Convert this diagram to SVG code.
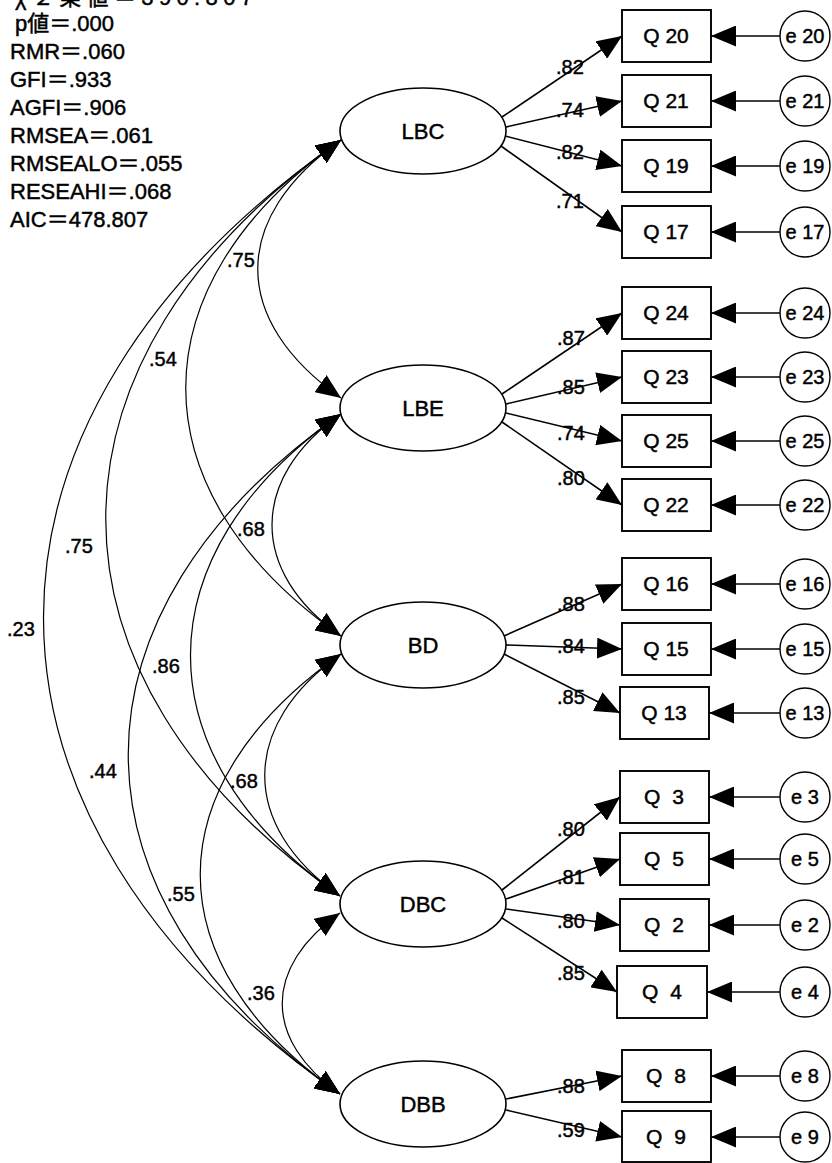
<svg xmlns="http://www.w3.org/2000/svg" width="832" height="1163" viewBox="0 0 832 1163">
<style>
  .t { font-family: "Liberation Sans", "Noto Sans CJK JP", sans-serif; fill: #000; stroke: #000; stroke-width: 0.45; }
  .stat { font-size: 22px; }
  .lv { font-size: 22px; text-anchor: middle; }
  .obs { font-size: 21px; text-anchor: middle; }
  .err { font-size: 20px; text-anchor: middle; }
  .w { font-size: 20px; }
  .ell { fill: #fff; stroke: #000; stroke-width: 1.6; }
  .box { fill: #fff; stroke: #000; stroke-width: 1.9; }
  .circ { fill: #fff; stroke: #000; stroke-width: 1.4; }
  .ln { fill: none; stroke: #000; stroke-width: 1.6; marker-end: url(#ah); }
  .arc { fill: none; stroke: #000; stroke-width: 1.2; marker-start: url(#ah); marker-end: url(#ah); }
</style>
<defs>
  <marker id="ah" viewBox="0 0 25 21" refX="25" refY="10.5" markerWidth="25" markerHeight="21" markerUnits="userSpaceOnUse" orient="auto-start-reverse">
    <path d="M0,0 L25,10.5 L0,21 z" fill="#000"/>
  </marker>
</defs>
<rect width="832" height="1163" fill="#fff"/>

<g id="fit-stats" class="t stat">
  <text x="15" y="5" textLength="238" lengthAdjust="spacing">χ２乗値＝390.807</text>
  <text x="15" y="31">p値＝.000</text>
  <text x="10" y="59">RMR＝.060</text>
  <text x="10" y="87">GFI＝.933</text>
  <text x="10" y="115">AGFI＝.906</text>
  <text x="10" y="143">RMSEA＝.061</text>
  <text x="10" y="171">RMSEALO＝.055</text>
  <text x="10" y="199">RESEAHI＝.068</text>
  <text x="10" y="227">AIC＝478.807</text>
</g>

<g id="connectors">
  <!-- covariances -->
  <path class="arc" d="M341,140 C230,218 230,320 341,398"/>
  <path class="arc" d="M341,140 C134,285 134,491 341,636"/>
  <path class="arc" d="M341,140 C28,359 27,677 340,896"/>
  <path class="arc" d="M341,140 C-55,417 -56,817 340,1094"/>
  <path class="arc" d="M341,414 C249,478 249,572 341,636"/>
  <path class="arc" d="M341,414 C141,554 140,756 340,896"/>
  <path class="arc" d="M341,414 C58,612 57,896 340,1094"/>
  <path class="arc" d="M341,654 C240,725 239,825 340,896"/>
  <path class="arc" d="M341,654 C154,785 153,963 340,1094"/>
  <path class="arc" d="M340,913 C263,967 263,1040 340,1094"/>
  <!-- loadings -->
  <path class="ln" d="M502,117 L622,36"/>
  <path class="ln" d="M506,127 L622,101"/>
  <path class="ln" d="M505,136 L622,166"/>
  <path class="ln" d="M501,146 L622,232"/>
  <path class="ln" d="M502,394 L622,313"/>
  <path class="ln" d="M506,404 L622,377"/>
  <path class="ln" d="M506,413 L622,441"/>
  <path class="ln" d="M502,422 L622,505"/>
  <path class="ln" d="M504,636 L622,584"/>
  <path class="ln" d="M506,645 L622,649"/>
  <path class="ln" d="M504,654 L620,713"/>
  <path class="ln" d="M502,890 L620,797"/>
  <path class="ln" d="M506,899 L620,859"/>
  <path class="ln" d="M506,909 L620,925"/>
  <path class="ln" d="M502,918 L617,992"/>
  <path class="ln" d="M506,1099 L622,1076"/>
  <path class="ln" d="M506,1110 L622,1137"/>
  <!-- errors -->
  <path class="ln" d="M780,36 L711,36"/>
  <path class="ln" d="M780,101 L711,101"/>
  <path class="ln" d="M780,166 L711,166"/>
  <path class="ln" d="M780,232 L711,232"/>
  <path class="ln" d="M780,313 L711,313"/>
  <path class="ln" d="M780,377 L711,377"/>
  <path class="ln" d="M780,441 L711,441"/>
  <path class="ln" d="M780,505 L711,505"/>
  <path class="ln" d="M780,584 L711,584"/>
  <path class="ln" d="M780,649 L711,649"/>
  <path class="ln" d="M780,713 L709,713"/>
  <path class="ln" d="M780,797 L709,797"/>
  <path class="ln" d="M780,859 L709,859"/>
  <path class="ln" d="M780,925 L709,925"/>
  <path class="ln" d="M780,992 L707,992"/>
  <path class="ln" d="M780,1076 L711,1076"/>
  <path class="ln" d="M780,1137 L711,1137"/>
  <!-- labels -->
  <g class="t w">
    <text x="227" y="267">.75</text>
    <text x="149" y="366">.54</text>
    <text x="237" y="536">.68</text>
    <text x="65" y="553">.75</text>
    <text x="7" y="636">.23</text>
    <text x="152" y="673">.86</text>
    <text x="230" y="788">.68</text>
    <text x="89" y="778">.44</text>
    <text x="167" y="901">.55</text>
    <text x="247" y="1000">.36</text>
    <text x="556" y="74">.82</text>
    <text x="556" y="117">.74</text>
    <text x="556" y="159">.82</text>
    <text x="556" y="208">.71</text>
    <text x="557" y="345">.87</text>
    <text x="557" y="394">.85</text>
    <text x="557" y="440">.74</text>
    <text x="557" y="485">.80</text>
    <text x="557" y="611">.88</text>
    <text x="557" y="653">.84</text>
    <text x="557" y="704">.85</text>
    <text x="557" y="836">.80</text>
    <text x="557" y="884">.81</text>
    <text x="557" y="928">.80</text>
    <text x="557" y="980">.85</text>
    <text x="557" y="1093">.88</text>
    <text x="557" y="1137">.59</text>
  </g>
</g>

<g id="LBC"><ellipse class="ell" cx="423" cy="131" rx="83" ry="43"/><text class="t lv" x="423" y="139">LBC</text></g>
<g id="LBE"><ellipse class="ell" cx="423" cy="408" rx="83" ry="43"/><text class="t lv" x="423" y="416">LBE</text></g>
<g id="BD"><ellipse class="ell" cx="423" cy="645" rx="83" ry="43"/><text class="t lv" x="423" y="653">BD</text></g>
<g id="DBC"><ellipse class="ell" cx="423" cy="904" rx="83" ry="43"/><text class="t lv" x="423" y="912">DBC</text></g>
<g id="DBB"><ellipse class="ell" cx="423" cy="1104" rx="83" ry="43"/><text class="t lv" x="423" y="1112">DBB</text></g>

<g id="Q20"><rect class="box" x="622" y="10" width="89" height="52"/><text class="t obs" x="666" y="43">Q 20</text></g>
<g id="Q21"><rect class="box" x="622" y="75" width="89" height="52"/><text class="t obs" x="666" y="108">Q 21</text></g>
<g id="Q19"><rect class="box" x="622" y="140" width="89" height="52"/><text class="t obs" x="666" y="173">Q 19</text></g>
<g id="Q17"><rect class="box" x="622" y="206" width="89" height="52"/><text class="t obs" x="666" y="239">Q 17</text></g>
<g id="Q24"><rect class="box" x="622" y="287" width="89" height="52"/><text class="t obs" x="666" y="320">Q 24</text></g>
<g id="Q23"><rect class="box" x="622" y="351" width="89" height="52"/><text class="t obs" x="666" y="384">Q 23</text></g>
<g id="Q25"><rect class="box" x="622" y="415" width="89" height="52"/><text class="t obs" x="666" y="448">Q 25</text></g>
<g id="Q22"><rect class="box" x="622" y="479" width="89" height="52"/><text class="t obs" x="666" y="512">Q 22</text></g>
<g id="Q16"><rect class="box" x="622" y="558" width="89" height="52"/><text class="t obs" x="666" y="591">Q 16</text></g>
<g id="Q15"><rect class="box" x="622" y="623" width="89" height="52"/><text class="t obs" x="666" y="656">Q 15</text></g>
<g id="Q13"><rect class="box" x="620" y="687" width="89" height="52"/><text class="t obs" x="664" y="720">Q 13</text></g>
<g id="Q3"><rect class="box" x="620" y="771" width="89" height="52"/><text class="t obs" x="664" y="804">Q <tspan dx="6">3</tspan></text></g>
<g id="Q5"><rect class="box" x="620" y="833" width="89" height="52"/><text class="t obs" x="664" y="866">Q <tspan dx="6">5</tspan></text></g>
<g id="Q2"><rect class="box" x="620" y="899" width="89" height="52"/><text class="t obs" x="664" y="932">Q <tspan dx="6">2</tspan></text></g>
<g id="Q4"><rect class="box" x="617" y="966" width="90" height="52"/><text class="t obs" x="662" y="999">Q <tspan dx="6">4</tspan></text></g>
<g id="Q8"><rect class="box" x="622" y="1050" width="89" height="52"/><text class="t obs" x="666" y="1083">Q <tspan dx="6">8</tspan></text></g>
<g id="Q9"><rect class="box" x="622" y="1111" width="89" height="51"/><text class="t obs" x="666" y="1144">Q <tspan dx="6">9</tspan></text></g>

<g id="e20"><circle class="circ" cx="805" cy="36" r="25"/><text class="t err" x="805" y="43">e 20</text></g>
<g id="e21"><circle class="circ" cx="805" cy="101" r="25"/><text class="t err" x="805" y="108">e 21</text></g>
<g id="e19"><circle class="circ" cx="805" cy="166" r="25"/><text class="t err" x="805" y="173">e 19</text></g>
<g id="e17"><circle class="circ" cx="805" cy="232" r="25"/><text class="t err" x="805" y="239">e 17</text></g>
<g id="e24"><circle class="circ" cx="805" cy="313" r="25"/><text class="t err" x="805" y="320">e 24</text></g>
<g id="e23"><circle class="circ" cx="805" cy="377" r="25"/><text class="t err" x="805" y="384">e 23</text></g>
<g id="e25"><circle class="circ" cx="805" cy="441" r="25"/><text class="t err" x="805" y="448">e 25</text></g>
<g id="e22"><circle class="circ" cx="805" cy="505" r="25"/><text class="t err" x="805" y="512">e 22</text></g>
<g id="e16"><circle class="circ" cx="805" cy="584" r="25"/><text class="t err" x="805" y="591">e 16</text></g>
<g id="e15"><circle class="circ" cx="805" cy="649" r="25"/><text class="t err" x="805" y="656">e 15</text></g>
<g id="e13"><circle class="circ" cx="805" cy="713" r="25"/><text class="t err" x="805" y="720">e 13</text></g>
<g id="e3"><circle class="circ" cx="805" cy="797" r="25"/><text class="t err" x="805" y="804">e 3</text></g>
<g id="e5"><circle class="circ" cx="805" cy="859" r="25"/><text class="t err" x="805" y="866">e 5</text></g>
<g id="e2"><circle class="circ" cx="805" cy="925" r="25"/><text class="t err" x="805" y="932">e 2</text></g>
<g id="e4"><circle class="circ" cx="805" cy="992" r="25"/><text class="t err" x="805" y="999">e 4</text></g>
<g id="e8"><circle class="circ" cx="805" cy="1076" r="25"/><text class="t err" x="805" y="1083">e 8</text></g>
<g id="e9"><circle class="circ" cx="805" cy="1137" r="25"/><text class="t err" x="805" y="1144">e 9</text></g>
</svg>
